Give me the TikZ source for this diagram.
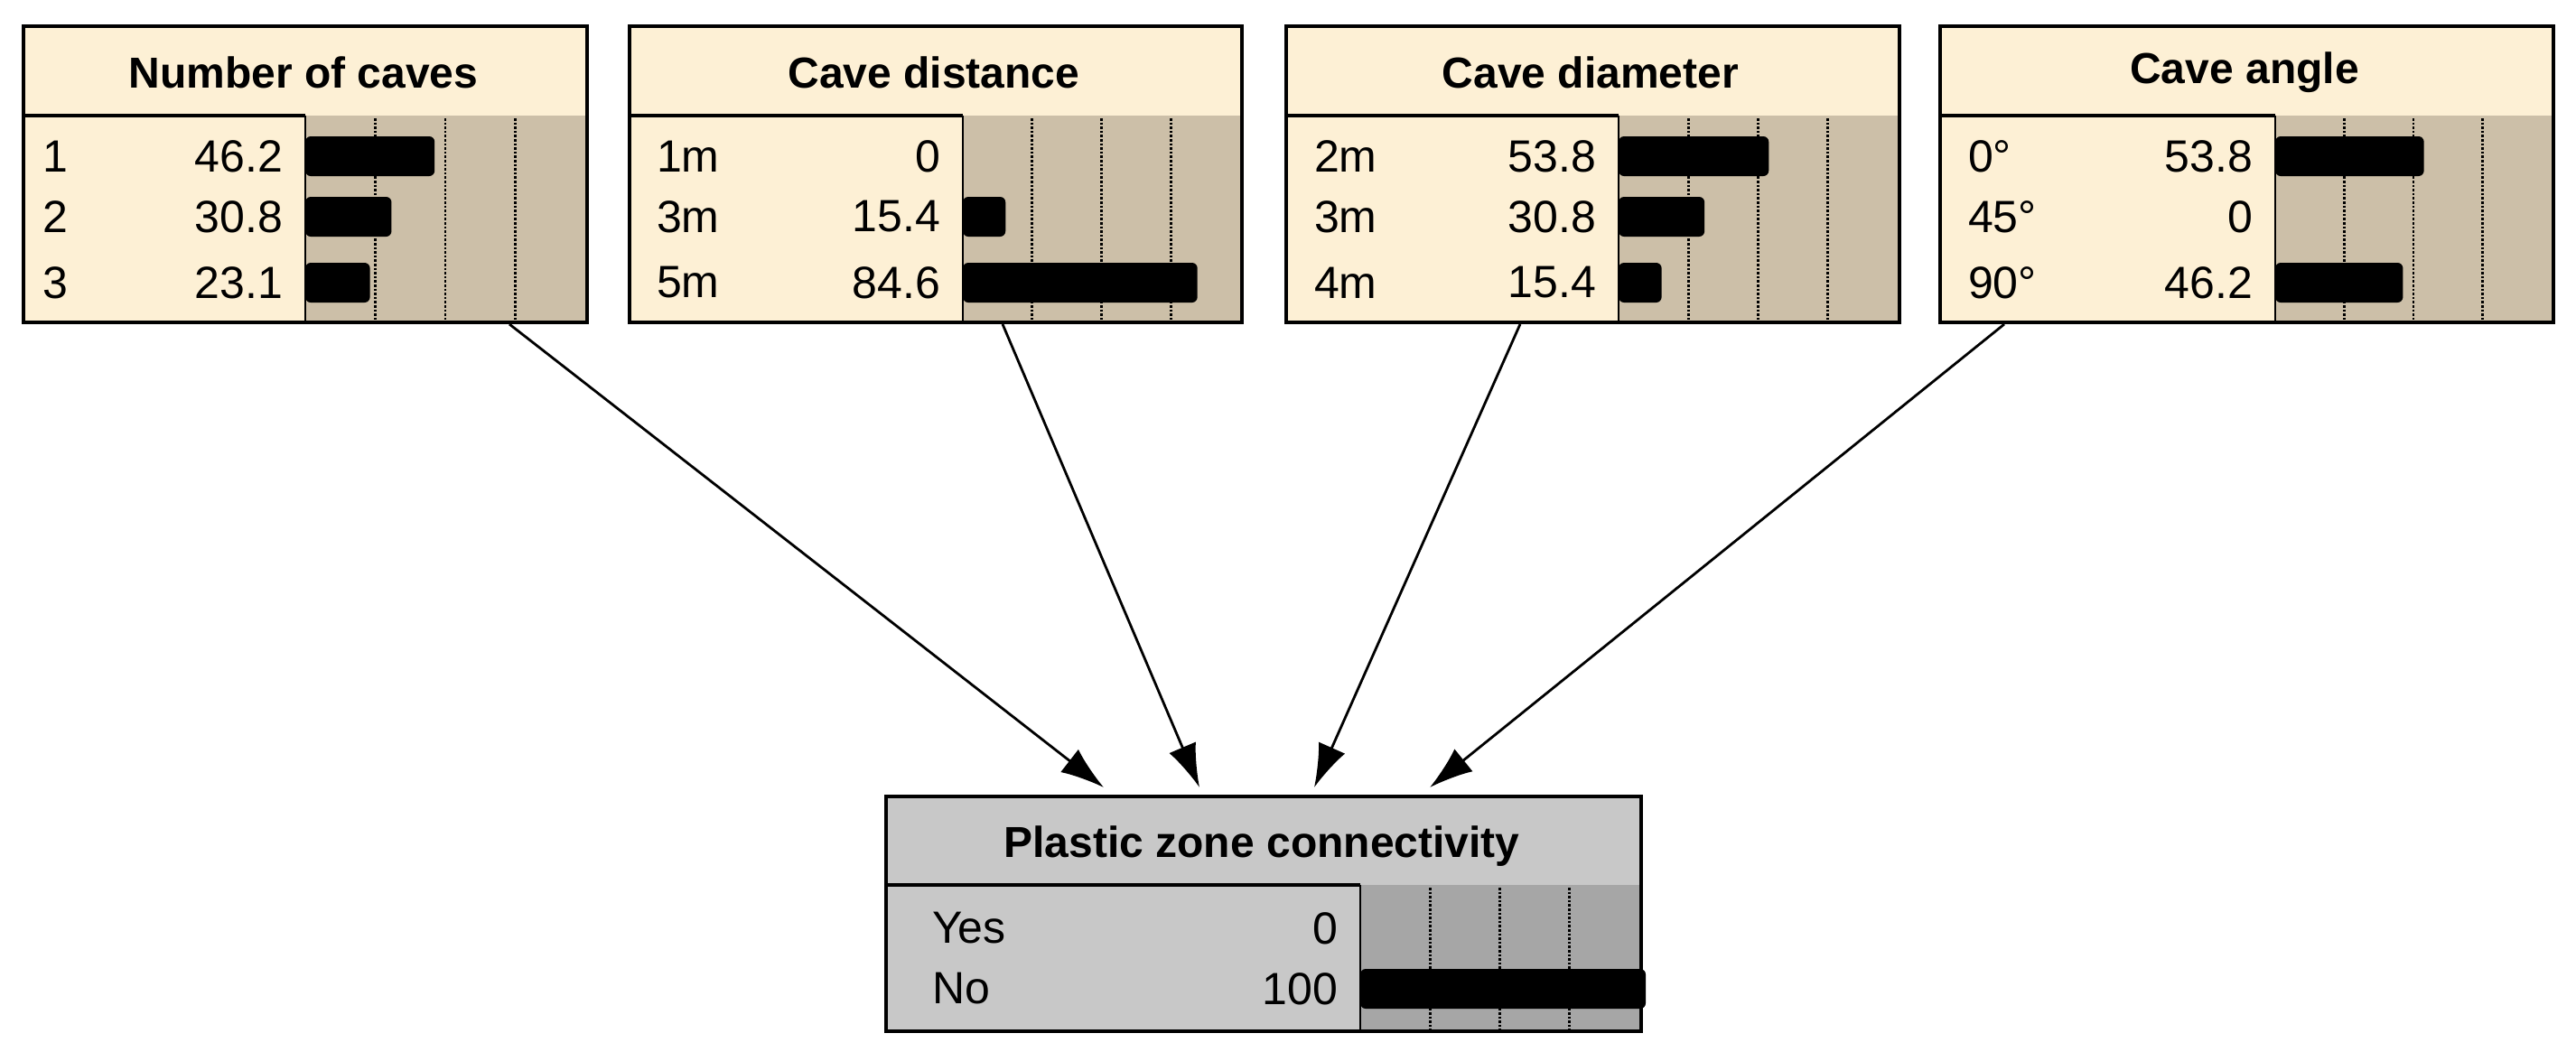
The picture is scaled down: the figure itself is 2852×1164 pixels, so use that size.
\documentclass[tikz,border=0pt]{standalone}
\usepackage{fontspec}
\setmainfont{Liberation Sans}
\usetikzlibrary{arrows.meta}
\definecolor{cream}{HTML}{FDF0D5}
\definecolor{creambar}{HTML}{CCBFA8}
\definecolor{greybox}{HTML}{C8C8C8}
\definecolor{greybar}{HTML}{A6A6A6}
\tikzset{
  box/.style={draw=black,line width=2.2pt},
  ttl/.style={font=\fontsize{24}{28}\selectfont\bfseries,anchor=center},
  lab/.style={font=\fontsize{25}{28}\selectfont,anchor=west},
  val/.style={font=\fontsize{25}{28}\selectfont,anchor=east},
  bar/.style={fill=black,rounded corners=3pt},
  grid/.style={densely dotted,line width=1.3pt},
  link/.style={line width=1.4pt,-{Latex[length=24pt,width=16pt]}}
}
% #1 name #2 x0 #3 x1 #4 xb #5 y0 #6 y1 #7 yh #8 fill #9 barfill
\newcommand{\netbox}[9]{%
  \fill[#8] (#2,#5) rectangle (#3,#6);
  \fill[#9] (#4,#7) rectangle (#3,#6);
  \pgfmathsetmacro{\wq}{(#3-#4)/4}
  \foreach \k in {1,2,3}{\draw[grid] ({#4+\k*\wq},{#7+3}) -- ({#4+\k*\wq},#6);}
  \draw[line width=2.2pt] (#2,#7) -- (#4,#7);
  \draw[line width=1pt] (#4,#7) -- (#4,#6);
  \node[box,minimum width={(#3-#2)*0.5pt},minimum height={(#6-#5)*0.5pt},anchor=north west,inner sep=0pt] (#1) at (#2,#5) {};
}
% #1 name #2 xl #3 xv #4 xb #5 xe #6 y #7 label #8 value #9 pct
\newcommand{\staterow}[9]{%
  \node[lab] (#1l) at (#2,#6) {#7};
  \node[val] (#1v) at (#3,#6) {#8};
  \pgfmathsetmacro{\bw}{(#5-#4)/100*#9}
  \ifdim #9pt>0pt \fill[bar] (#4,{#6-22}) rectangle ({#4+\bw},{#6+22}); \fi
}
\begin{document}
\begin{tikzpicture}[x=0.5pt,y=-0.5pt]
\useasboundingbox (0,0) rectangle (2852,1164);
% Number of caves
\netbox{n1}{24}{648}{338}{27}{355}{128}{cream}{creambar}
\node[ttl] (t1) at (336,80) {Number of caves};
\staterow{a1}{40}{320}{338}{648}{173}{1}{46.2}{46.2}
\staterow{a2}{40}{320}{338}{648}{240}{2}{30.8}{30.8}
\staterow{a3}{40}{320}{338}{648}{313}{3}{23.1}{23.1}
% Cave distance
\netbox{n2}{695}{1373}{1066}{27}{355}{128}{cream}{creambar}
\node[ttl] (t2) at (1034,80) {Cave distance};
\staterow{b1}{720}{1048}{1066}{1373}{173}{1m}{0}{0}
\staterow{b2}{720}{1048}{1066}{1373}{240}{3m}{15.4}{15.4}
\staterow{b3}{720}{1048}{1066}{1373}{313}{5m}{84.6}{84.6}
% Cave diameter
\netbox{n3}{1422}{2101}{1792}{27}{355}{128}{cream}{creambar}
\node[ttl] (t3) at (1761,80) {Cave diameter};
\staterow{c1}{1448}{1774}{1792}{2101}{173}{2m}{53.8}{53.8}
\staterow{c2}{1448}{1774}{1792}{2101}{240}{3m}{30.8}{30.8}
\staterow{c3}{1448}{1774}{1792}{2101}{313}{4m}{15.4}{15.4}
% Cave angle
\netbox{n4}{2146}{2825}{2519}{27}{355}{128}{cream}{creambar}
\node[ttl] (t4) at (2485,80) {Cave angle};
\staterow{d1}{2172}{2501}{2519}{2825}{173}{0°}{53.8}{53.8}
\staterow{d2}{2172}{2501}{2519}{2825}{240}{45°}{0}{0}
\staterow{d3}{2172}{2501}{2519}{2825}{313}{90°}{46.2}{46.2}
% Plastic zone connectivity
\netbox{n5}{979}{1815}{1506}{880}{1140}{980}{greybox}{greybar}
\node[ttl] (t5) at (1397,937) {Plastic zone connectivity};
\staterow{e1}{1025}{1488}{1506}{1815}{1028}{Yes}{0}{0}
\staterow{e2}{1025}{1488}{1506}{1822}{1095}{No}{100}{100}
% connectors
\coordinate (s1) at (564,359);
\coordinate (s2) at (1110,359);
\coordinate (s3) at (1683,359);
\coordinate (s4) at (2219,359);
\coordinate (e1) at (1222,872);
\coordinate (e2) at (1328,872);
\coordinate (e3) at (1455,872);
\coordinate (e4) at (1583,872);
\draw[link] (s1) -- (e1);
\draw[link] (s2) -- (e2);
\draw[link] (s3) -- (e3);
\draw[link] (s4) -- (e4);
\end{tikzpicture}
\end{document}
